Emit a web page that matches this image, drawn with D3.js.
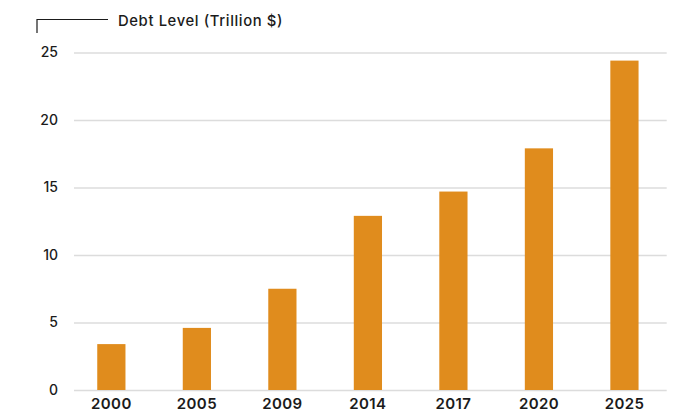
<!DOCTYPE html>
<html>
<head>
<meta charset="utf-8">
<script src="https://cdn.jsdelivr.net/npm/d3@7"></script>
<style>
  html, body { margin: 0; padding: 0; background: #ffffff; }
  svg { display: block; }
  text { font-family: Inter, "Noto Sans", sans-serif; fill: #1b1b1b; }
</style>
</head>
<body>
<svg id="chart" width="674" height="413"></svg>
<script>
// Federal debt level by year, trillions of dollars
const years = ["2000", "2005", "2009", "2014", "2017", "2020", "2025"];
const debt = [3.4, 4.6, 7.5, 12.9, 14.7, 17.9, 24.4];
const yTicks = [0, 5, 10, 15, 20, 25];
const axisTitle = "Debt Level (Trillion $)";

const svg = d3.select("#chart");
const barColor = "#e08c1d";
const gridColor = "#dcdcdc";

const x = d3.scaleBand()
  .domain(years)
  .range([68.6, 667.2])
  .paddingInner(0.67)
  .paddingOuter(0.335);

const y = d3.scaleLinear()
  .domain([0, 25])
  .range([390, 52.5]);

// Horizontal gridlines with tick labels on the left
const yAxis = d3.axisLeft(y)
  .tickValues(yTicks)
  .tickSize(-(666.7 - 74))
  .tickPadding(16)
  .tickFormat(d3.format("d"));

const gy = svg.append("g")
  .attr("transform", "translate(74,0)")
  .call(yAxis);
gy.select(".domain").remove();
gy.selectAll(".tick line")
  .attr("stroke", gridColor)
  .attr("stroke-width", 1.4);
gy.selectAll(".tick text")
  .attr("font-size", 14)
  .attr("font-weight", 500)
  .attr("fill", "#1b1b1b");

// Bars
svg.append("g")
  .selectAll("rect")
  .data(years.map((yr, i) => ({ yr, v: debt[i] })))
  .join("rect")
  .attr("x", d => x(d.yr))
  .attr("width", x.bandwidth())
  .attr("y", d => y(d.v))
  .attr("height", d => y(0) - y(d.v))
  .attr("fill", barColor);

// Year labels under the bars
const xAxis = d3.axisBottom(x).tickSize(0);
const gx = svg.append("g")
  .attr("transform", "translate(0,390)")
  .call(xAxis);
gx.select(".domain").remove();
gx.selectAll(".tick text")
  .attr("y", 19)
  .attr("dy", 0)
  .attr("font-size", 15)
  .attr("font-weight", 600)
  .attr("letter-spacing", 0.4)
  .attr("fill", "#1b1b1b");

// Axis title with its bracket
svg.append("path")
  .attr("d", "M37,33 V19.5 H108")
  .attr("fill", "none")
  .attr("stroke", "#1b1b1b")
  .attr("stroke-width", 1.2);

svg.append("text")
  .attr("x", 118)
  .attr("y", 25.7)
  .attr("font-size", 14.8)
  .attr("font-weight", 500)
  .attr("textLength", 164.5)
  .attr("lengthAdjust", "spacing")
  .text(axisTitle);
</script>
</body>
</html>
